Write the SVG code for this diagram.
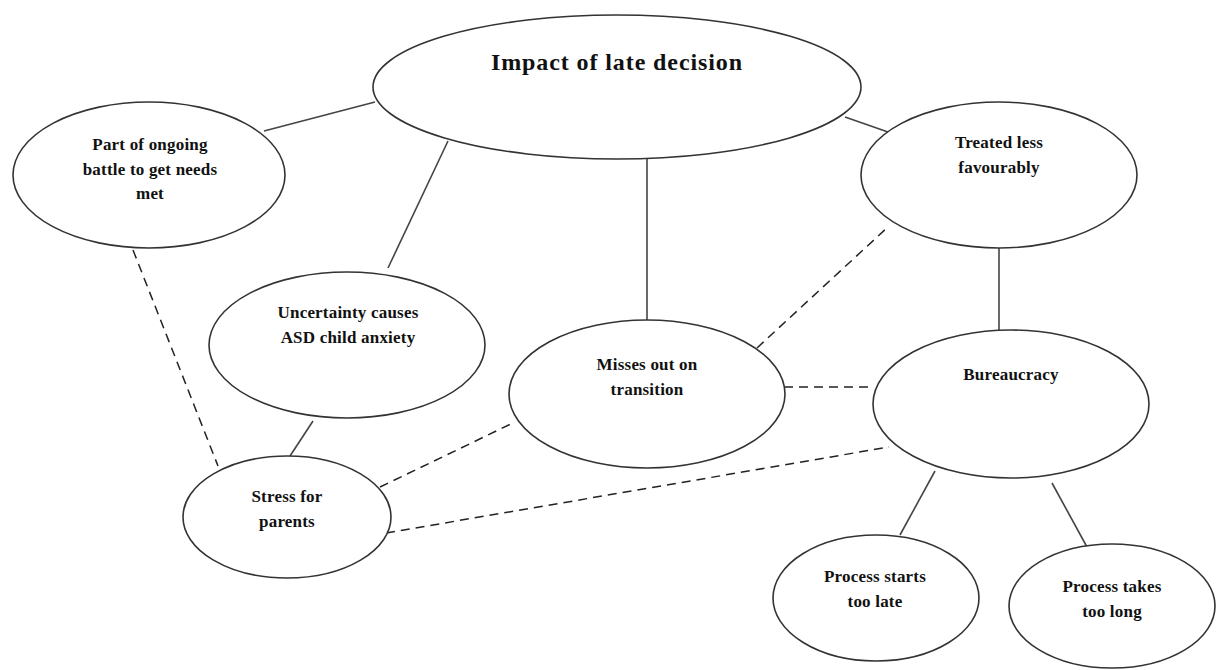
<svg xmlns="http://www.w3.org/2000/svg" width="1219" height="670" viewBox="0 0 1219 670">
<style>
.n{fill:#fff;stroke:#333;stroke-width:1.6}
.t{font-family:"Liberation Serif","Times New Roman",serif;font-weight:bold;font-size:17px;fill:#111;text-anchor:middle;letter-spacing:0.2px}
.h{font-size:24px;letter-spacing:0.9px}
.s{stroke:#444;stroke-width:1.6;fill:none}
.d{stroke:#222;stroke-width:1.5;fill:none;stroke-dasharray:9 6}
</style>
<rect width="1219" height="670" fill="#fff"/>
<g id="connectors">
<line class="s" x1="264" y1="131" x2="375" y2="102"/>
<line class="s" x1="448" y1="141" x2="388" y2="268"/>
<line class="s" x1="647" y1="158" x2="647" y2="320"/>
<line class="s" x1="845" y1="117" x2="888" y2="132"/>
<line class="s" x1="999" y1="248" x2="999" y2="330"/>
<line class="s" x1="313" y1="421" x2="290" y2="456"/>
<line class="s" x1="935" y1="471" x2="900" y2="535"/>
<line class="s" x1="1052" y1="483" x2="1087" y2="547"/>
<line class="d" x1="133" y1="250" x2="218" y2="466"/>
<line class="d" x1="380" y1="487" x2="515" y2="422"/>
<line class="d" x1="386" y1="533" x2="889" y2="447"/>
<line class="d" x1="757" y1="348" x2="889" y2="226"/>
<line class="d" x1="784" y1="387" x2="874" y2="387"/>
</g>
<g id="main">
<ellipse class="n" cx="617" cy="87" rx="244" ry="72"/>
<text class="t h" x="617" y="70">Impact of late decision</text>
</g>
<g id="battle">
<ellipse class="n" cx="149" cy="175" rx="136" ry="73"/>
<text class="t" x="150" y="150">Part of ongoing</text>
<text class="t" x="150" y="175">battle to get needs</text>
<text class="t" x="150" y="199">met</text>
</g>
<g id="treated">
<ellipse class="n" cx="999" cy="175" rx="138" ry="73"/>
<text class="t" x="999" y="148">Treated less</text>
<text class="t" x="999" y="173">favourably</text>
</g>
<g id="uncertainty">
<ellipse class="n" cx="347" cy="345" rx="138" ry="73"/>
<text class="t" x="348" y="318">Uncertainty causes</text>
<text class="t" x="348" y="343">ASD child anxiety</text>
</g>
<g id="misses">
<ellipse class="n" cx="647" cy="394" rx="138" ry="74"/>
<text class="t" x="647" y="370">Misses out on</text>
<text class="t" x="647" y="395">transition</text>
</g>
<g id="bureaucracy">
<ellipse class="n" cx="1011" cy="404" rx="138" ry="74"/>
<text class="t" x="1011" y="380">Bureaucracy</text>
</g>
<g id="stress">
<ellipse class="n" cx="287" cy="517" rx="104" ry="61"/>
<text class="t" x="287" y="502">Stress for</text>
<text class="t" x="287" y="527">parents</text>
</g>
<g id="starts">
<ellipse class="n" cx="876" cy="598" rx="103" ry="63"/>
<text class="t" x="875" y="582">Process starts</text>
<text class="t" x="875" y="607">too late</text>
</g>
<g id="takes">
<ellipse class="n" cx="1112" cy="606" rx="103" ry="62"/>
<text class="t" x="1112" y="592">Process takes</text>
<text class="t" x="1112" y="617">too long</text>
</g>
</svg>
